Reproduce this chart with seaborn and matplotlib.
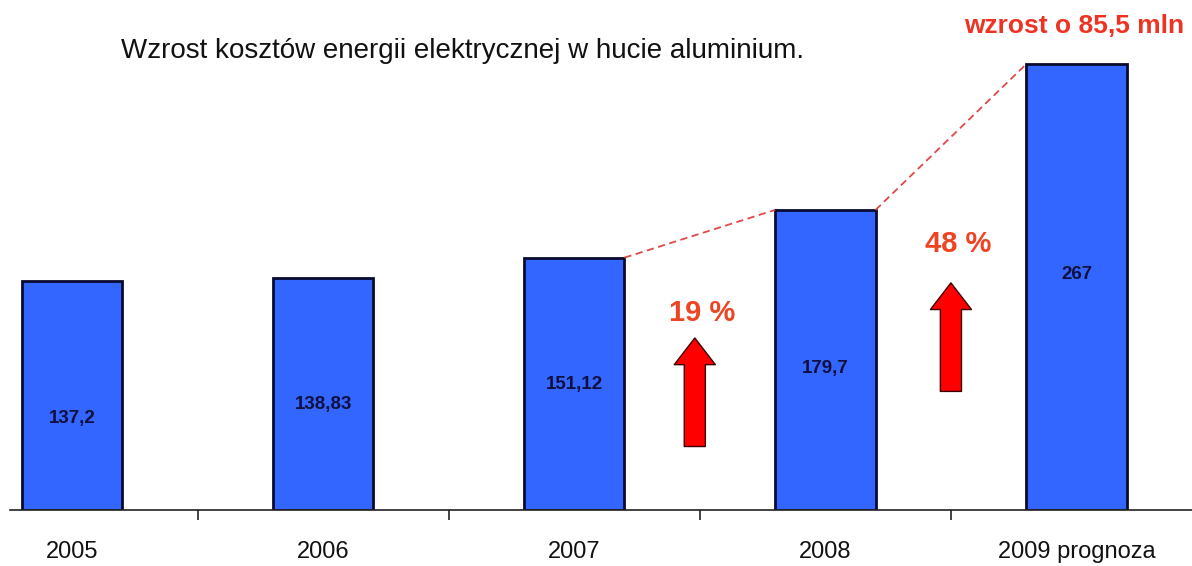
import matplotlib
matplotlib.use("Agg")
import matplotlib.pyplot as plt
import seaborn as sns
import pandas as pd

# dane z wykresu
lata = ["2005", "2006", "2007", "2008", "2009 prognoza"]
koszty = [137.2, 138.83, 151.12, 179.7, 267]
etykiety = ["137,2", "138,83", "151,12", "179,7", "267"]
wys_etykiet = [55, 63, 75, 85, 141]
wzrosty = ["19 %", "48 %"]

sns.set_theme(style="white")
plt.rcParams["font.family"] = ["Liberation Sans", "DejaVu Sans"]

df = pd.DataFrame({"rok": lata, "koszt": koszty})

fig = plt.figure(figsize=(11.92, 5.66), dpi=100)
ax = fig.add_axes([0.0084, 0.099, 0.9916, 0.901])

sns.barplot(data=df, x="rok", y="koszt", color="#3366FF", saturation=1,
            width=0.4, edgecolor="#0a0a30", linewidth=2, ax=ax)

ax.set_xlim(-0.247, 4.46)
ax.set_ylim(0, 305.4)
ax.set_xlabel("")
ax.set_ylabel("")
ax.set_yticks([])
for s in ["top", "right", "left"]:
    ax.spines[s].set_visible(False)
ax.spines["bottom"].set_color("#222222")
ax.spines["bottom"].set_linewidth(1.2)

# podpisy osi
ax.tick_params(axis="x", which="major", length=0, pad=22, labelsize=17, colors="#111111")
ax.set_xticks([0.5, 1.5, 2.5, 3.5], minor=True)
ax.tick_params(axis="x", which="minor", length=7, width=1.2, direction="out", color="#222222", bottom=True)

# wartosci na slupkach
for i, (t, h) in enumerate(zip(etykiety, wys_etykiet)):
    ax.text(i, h, t, ha="center", va="center", fontsize=13.5, fontweight="bold", color="#101040")

# przerywane linie miedzy slupkami
bars = ax.patches
for a, b in [(2, 3), (3, 4)]:
    pa, pb = bars[a], bars[b]
    ax.plot([pa.get_x() + pa.get_width(), pb.get_x()],
            [pa.get_height(), pb.get_height()],
            ls="--", lw=1.3, color="#E04848", dashes=(4, 2.5))

# strzalki wzrostu
strz = [(2.48, 38, 103), (3.50, 71, 136)]
for x, y0, y1 in strz:
    ax.annotate("", xy=(x, y1), xytext=(x, y0),
                arrowprops=dict(arrowstyle="simple,head_length=1.2,head_width=1.85,tail_width=0.95",
                                fc="#FF0000", ec="#400000", lw=1, mutation_scale=16,
                                shrinkA=0, shrinkB=0))

ax.text(2.51, 118, wzrosty[0], ha="center", va="center", fontsize=21, fontweight="bold", color="#EE4422")
ax.text(3.53, 159, wzrosty[1], ha="center", va="center", fontsize=21, fontweight="bold", color="#EE4422")
ax.text(3.99, 290, "wzrost o 85,5 mln", ha="center", va="center", fontsize=19, fontweight="bold", color="#EE3322")

ax.text(1.554, 275, "Wzrost kosztów energii elektrycznej w hucie aluminium.",
        ha="center", va="center", fontsize=20, color="#111111")

fig.savefig("out.png", dpi=100)
